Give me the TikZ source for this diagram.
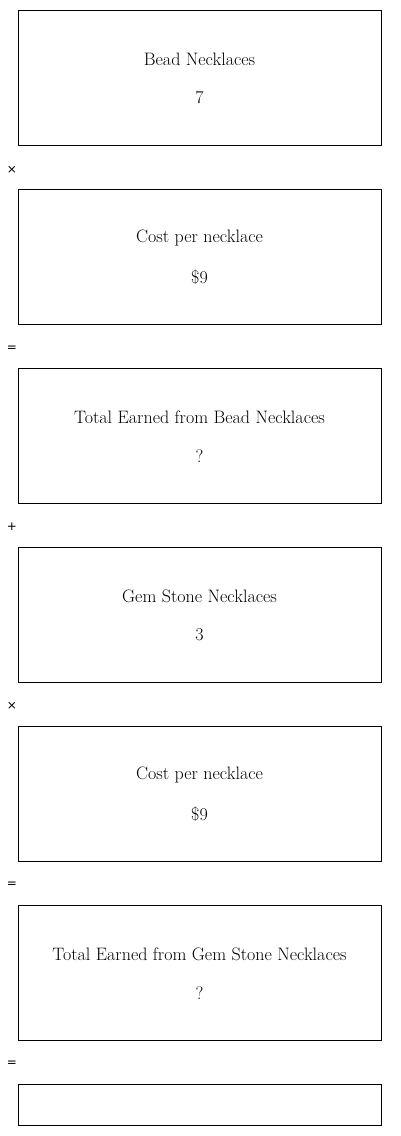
\documentclass[tikz,border=0pt]{standalone}
\usepackage{fontspec}
\newfontfamily\opfont{DejaVu Sans}
\usetikzlibrary{positioning,calc}

\tikzset{
	stepbox/.style={draw,line width=1pt,minimum width=363pt,minimum height=135pt,inner sep=0pt},
	endbox/.style={draw,line width=1pt,minimum width=363pt,minimum height=41pt,inner sep=0pt},
	caption/.style={inner sep=0pt,font=\fontsize{18}{21}\selectfont},
	oper/.style={inner sep=0pt,font=\opfont\fontsize{12}{14}\selectfont}
}

\begin{document}
\begin{tikzpicture}[x=1pt,y=1pt]
	\useasboundingbox (0,0) rectangle (400,-1136);
	
	%boxes
	\node[stepbox] (bead) at (199.5,-77.5) {};
	\node[stepbox,below=43pt of bead] (cost1) {};
	\node[stepbox,below=43pt of cost1] (total1) {};
	\node[stepbox,below=43pt of total1] (gem) {};
	\node[stepbox,below=43pt of gem] (cost2) {};
	\node[stepbox,below=43pt of cost2] (total2) {};
	\node[endbox,below=43pt of total2] (result) {};
	
	%captions
	\node[caption] (beadT) at ($(bead.center)+(0,18.5)$) {Bead Necklaces};
	\node[caption] (beadV) at ($(bead.center)+(0,-20.5)$) {7};
	%
	\node[caption] (cost1T) at ($(cost1.center)+(0,18.5)$) {Cost per necklace};
	\node[caption] (cost1V) at ($(cost1.center)+(0,-20.5)$) {\$9};
	%
	\node[caption] (total1T) at ($(total1.center)+(0,18.5)$) {Total Earned from Bead Necklaces};
	\node[caption] (total1V) at ($(total1.center)+(0,-20.5)$) {?};
	%
	\node[caption] (gemT) at ($(gem.center)+(0,18.5)$) {Gem Stone Necklaces};
	\node[caption] (gemV) at ($(gem.center)+(0,-20.5)$) {3};
	%
	\node[caption] (cost2T) at ($(cost2.center)+(0,18.5)$) {Cost per necklace};
	\node[caption] (cost2V) at ($(cost2.center)+(0,-20.5)$) {\$9};
	%
	\node[caption] (total2T) at ($(total2.center)+(0,18.5)$) {Total Earned from Gem Stone Necklaces};
	\node[caption] (total2V) at ($(total2.center)+(0,-20.5)$) {?};
	
	%operators
	\node[oper] (op1) at (12,-170) {×};
	\node[oper] (op2) at (12,-349) {=};
	\node[oper] (op3) at (12,-527) {+};
	\node[oper] (op4) at (12,-706) {×};
	\node[oper] (op5) at (12,-885) {=};
	\node[oper] (op6) at (12,-1064) {=};
\end{tikzpicture}
\end{document}
